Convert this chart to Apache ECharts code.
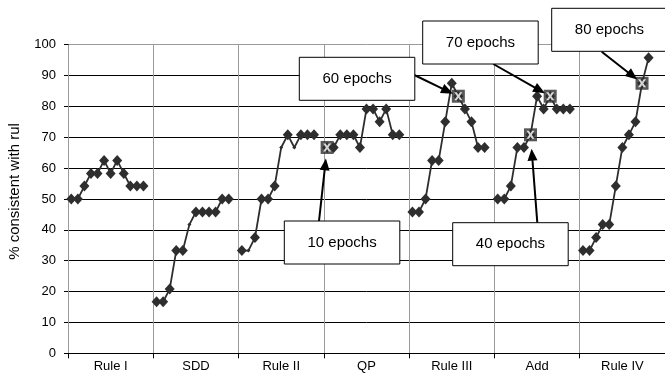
<!DOCTYPE html>
<html>
<head>
<meta charset="utf-8">
<script src="https://cdn.jsdelivr.net/npm/echarts@6/dist/echarts.min.js"></script>
<style>
  html, body { margin: 0; padding: 0; background: #fff; }
  #chart { width: 665px; height: 379px; }
</style>
</head>
<body>
<div id="chart"></div>
<script>
// Groups along the x axis and the per-step scores (% consistent with rule) in each
const groups = ['Rule I', 'SDD', 'Rule II', 'QP', 'Rule III', 'Add', 'Rule IV'];
const ruleI   = [50, 50, 54.2, 58.3, 58.3, 62.5, 58.3, 62.5, 58.3, 54.2, 54.2, 54.2];
const sdd     = [16.7, 16.7, 20.8, 33.3, 33.3, 41.7, 45.8, 45.8, 45.8, 45.8, 50, 50];
const ruleII  = [33.3, 33.3, 37.5, 50, 50, 54.2, 66.7, 70.8, 66.7, 70.8, 70.8, 70.8];
const qp      = [66.7, 66.7, 70.8, 70.8, 70.8, 66.7, 79.2, 79.2, 75, 79.2, 70.8, 70.8];
const ruleIII = [45.8, 45.8, 50, 62.5, 62.5, 75, 87.5, 83.3, 79.2, 75, 66.7, 66.7];
const add     = [50, 50, 54.2, 66.7, 66.7, 70.8, 83.3, 79.2, 83.3, 79.2, 79.2, 79.2];
const ruleIV  = [33.3, 33.3, 37.5, 41.7, 41.7, 54.2, 66.7, 70.8, 75, 87.5, 95.8];
const groupValues = [ruleI, sdd, ruleII, qp, ruleIII, add, ruleIV];

// Points drawn with a small dot instead of a diamond: [group, step]
const smallDots = [[1, 5], [2, 1], [2, 6], [2, 8]];

// Epoch checkpoints: [group, step, label]
const epochMarks = [
  [3, 0, '10 epochs'],
  [5, 5, '40 epochs'],
  [4, 7, '60 epochs'],
  [5, 8, '70 epochs'],
  [6, 9, '80 epochs']
];

// y axis ticks
const yTicks = [0, 10, 20, 30, 40, 50, 60, 70, 80, 90, 100];

const SLOTS = 13;           // steps per group incl. one empty slot
const xPos = (g, i) => g * SLOTS + i + 0.5;
const FONT = "'Liberation Sans', Arial, sans-serif";
const INK = '#2e2e2e';

const isSmall = (g, i) => smallDots.some(d => d[0] === g && d[1] === i);

const lineSeries = groupValues.map((vals, g) => ({
  type: 'line',
  xAxisIndex: 0,
  yAxisIndex: 0,
  data: vals.map((v, i) => ({
    value: [xPos(g, i), v],
    symbolSize: isSmall(g, i) ? 4 : [10, 11]
  })),
  symbol: 'diamond',
  showAllSymbol: true,
  itemStyle: { color: INK },
  lineStyle: { color: INK, width: 1.8 },
  silent: true,
  animation: false,
  z: 3
}));

const markPts = epochMarks.map(m => [xPos(m[0], m[1]), groupValues[m[0]][m[1]]]);

const series = lineSeries.concat([
  {
    type: 'scatter',
    data: markPts,
    symbol: 'rect',
    symbolSize: 13,
    itemStyle: { color: INK },
    animation: false,
    silent: true,
    z: 5
  },
  {
    type: 'scatter',
    data: markPts,
    symbol: 'path://M0,0 L3,0 L5,3 L7,0 L10,0 L6.6,5 L10,10 L7,10 L5,7 L3,10 L0,10 L3.4,5 Z',
    symbolSize: 8,
    itemStyle: { color: '#ffffff' },
    animation: false,
    silent: true,
    z: 6
  }
]);

const splitColors = yTicks.map((t, i) => (i === yTicks.length - 1 ? '#9a9a9a' : '#000000'));

const chart = echarts.init(document.getElementById('chart'), null, { renderer: 'canvas' });
chart.setOption({
  animation: false,
  backgroundColor: '#ffffff',
  grid: { left: 68, right: -13, top: 44.7, bottom: 25.7, containLabel: false },
  xAxis: [
    {
      type: 'value',
      min: 0,
      max: groups.length * SLOTS,
      show: false
    },
    {
      type: 'category',
      data: groups,
      boundaryGap: true,
      position: 'bottom',
      axisLine: { show: true, lineStyle: { color: '#000', width: 1 } },
      axisTick: { show: true, length: 5, lineStyle: { color: '#000' } },
      axisLabel: { color: '#000', fontSize: 13, fontFamily: FONT, margin: 7 },
      splitLine: { show: true, lineStyle: { color: '#9a9a9a', width: 1 } },
      z: 1
    }
  ],
  yAxis: {
    type: 'value',
    min: 0,
    max: 100,
    interval: 10,
    axisLine: { show: true, lineStyle: { color: '#000', width: 1 } },
    axisTick: { show: true, length: 4, lineStyle: { color: '#000' } },
    axisLabel: { color: '#000', fontSize: 13, fontFamily: FONT, margin: 12 },
    splitLine: { show: true, lineStyle: { color: splitColors, width: 1 } }
  },
  series: series
});

// Callout boxes with arrows pointing at the epoch checkpoints
const callouts = [
  { box: [284.3, 221], anchor: [319, 221], gap: 11 },
  { box: [452.7, 222.7], anchor: [537.3, 222.7], gap: 14 },
  { box: [299.3, 57.3], anchor: [414.3, 75], gap: 6 },
  { box: [422.7, 21], anchor: [493.3, 64], gap: 6 },
  { box: [551.7, 8.3], anchor: [601.7, 51.7], gap: 6 }
];
const BOX_W = 115.5, BOX_H = 43;

const elements = [];
epochMarks.forEach((m, k) => {
  const c = callouts[k];
  const p = chart.convertToPixel({ xAxisIndex: 0, yAxisIndex: 0 }, markPts[k]);
  const dx = p[0] - c.anchor[0], dy = p[1] - c.anchor[1];
  const len = Math.sqrt(dx * dx + dy * dy);
  const ux = dx / len, uy = dy / len;
  const tip = [p[0] - ux * c.gap, p[1] - uy * c.gap];
  const headLen = 12, headHalf = 5;
  const base = [tip[0] - ux * headLen, tip[1] - uy * headLen];
  elements.push({
    type: 'line',
    shape: { x1: c.anchor[0], y1: c.anchor[1], x2: base[0] + ux * 2, y2: base[1] + uy * 2 },
    style: { stroke: '#000', lineWidth: 2 },
    z: 10
  });
  elements.push({
    type: 'polygon',
    shape: { points: [tip, [base[0] - uy * headHalf, base[1] + ux * headHalf], [base[0] + uy * headHalf, base[1] - ux * headHalf]] },
    style: { fill: '#000' },
    z: 10
  });
  elements.push({
    type: 'rect',
    shape: { x: c.box[0], y: c.box[1], width: BOX_W, height: BOX_H },
    style: { fill: '#fff', stroke: '#000', lineWidth: 1 },
    z: 11
  });
  elements.push({
    type: 'text',
    x: c.box[0] + BOX_W / 2,
    y: c.box[1] + BOX_H / 2,
    style: { text: m[2], font: '15px ' + FONT, fill: '#000', align: 'center', verticalAlign: 'middle' },
    z: 12
  });
});

// y axis title
elements.push({
  type: 'text',
  x: 14.5,
  y: 191.5,
  rotation: Math.PI / 2,
  style: {
    text: '% consistent with rule',
    font: '15px ' + FONT,
    fill: '#000',
    align: 'center',
    verticalAlign: 'middle',
    width: 145,
    overflow: 'truncate',
    ellipsis: ''
  },
  z: 12
});

chart.setOption({ graphic: { elements: elements } });
</script>
</body>
</html>
